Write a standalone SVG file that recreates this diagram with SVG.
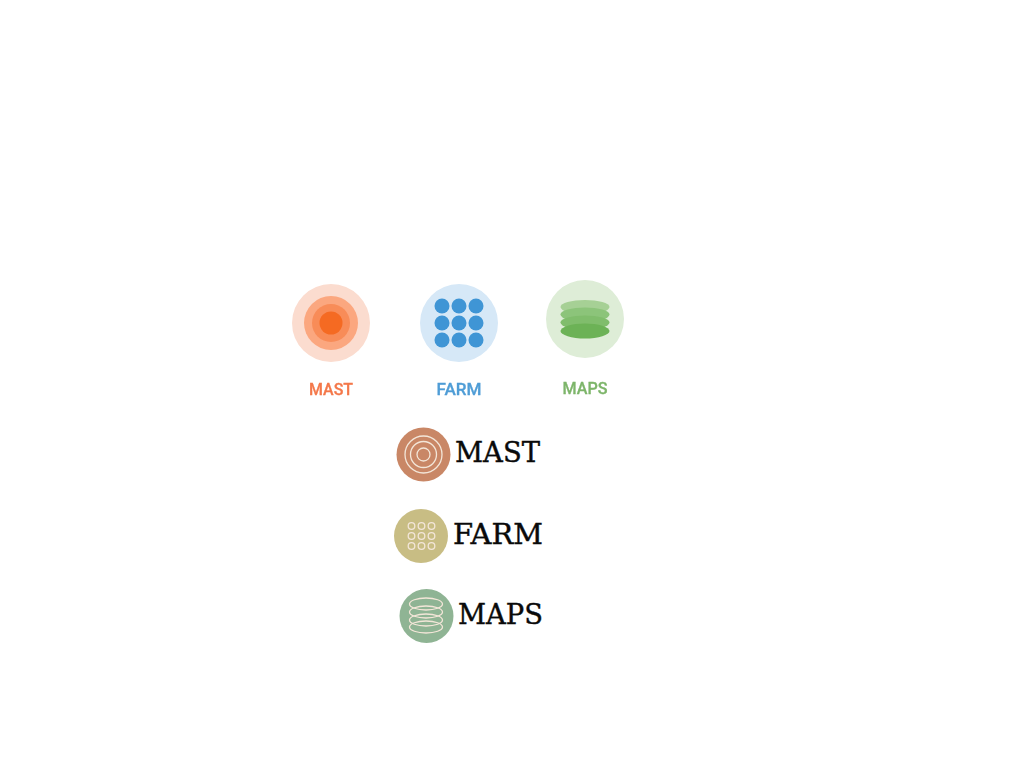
<svg xmlns="http://www.w3.org/2000/svg" width="1024" height="768" viewBox="0 0 1024 768">
<style>
.lab{font-family:"Roboto","Noto Sans",sans-serif;font-size:17px;font-weight:500;text-anchor:middle;stroke-width:0.3}
.name{font-family:"DejaVu Serif","Liberation Serif",serif;font-size:28px;fill:#0a0a0a;stroke:#0a0a0a;stroke-width:0.4;text-anchor:start}
.ln{fill:none;stroke:#f3e6d8;stroke-width:1.3}
</style>
<defs><filter id="soft" x="-5%" y="-5%" width="110%" height="110%" color-interpolation-filters="sRGB"><feGaussianBlur stdDeviation="0.6"/></filter></defs>
<rect width="1024" height="768" fill="#fff"/>
<g id="node-mast-top" filter="url(#soft)">
<circle cx="331" cy="323" r="39" fill="#fbdccf"/>
<circle cx="331" cy="323" r="27" fill="#fba77f"/>
<circle cx="331" cy="323" r="19" fill="#f88c58"/>
<circle cx="331" cy="323" r="11.500" fill="#f56a22"/>
<text class="lab" x="331" y="395" fill="#f4784a" stroke="#f4784a" textLength="44" lengthAdjust="spacingAndGlyphs">MAST</text>
</g>
<g id="node-farm-top" filter="url(#soft)" fill="#3f95d5">
<circle cx="459" cy="323" r="39" fill="#d6e8f7"/>
<circle cx="442" cy="306" r="7.500"/><circle cx="459" cy="306" r="7.500"/><circle cx="476" cy="306" r="7.500"/>
<circle cx="442" cy="323" r="7.500"/><circle cx="459" cy="323" r="7.500"/><circle cx="476" cy="323" r="7.500"/>
<circle cx="442" cy="340" r="7.500"/><circle cx="459" cy="340" r="7.500"/><circle cx="476" cy="340" r="7.500"/>
<text class="lab" x="459" y="395" fill="#4f9dd6" stroke="#4f9dd6" textLength="45" lengthAdjust="spacingAndGlyphs">FARM</text>
</g>
<g id="node-maps-top" filter="url(#soft)">
<circle cx="585" cy="319" r="39" fill="#deedd7"/>
<ellipse cx="585" cy="307" rx="24.500" ry="7" fill="#a6d095"/>
<ellipse cx="585" cy="314.500" rx="24.500" ry="7" fill="#8cc47a"/>
<ellipse cx="585" cy="322.500" rx="24.500" ry="7" fill="#80bd6c"/>
<ellipse cx="585" cy="331" rx="24.500" ry="7.500" fill="#6cb256"/>
<text class="lab" x="585" y="394" fill="#7db56a" stroke="#7db56a" textLength="45" lengthAdjust="spacingAndGlyphs">MAPS</text>
</g>
<g id="node-mast-bottom">
<circle cx="423.500" cy="454.500" r="27" fill="#c98766"/>
<circle class="ln" cx="423.500" cy="454.500" r="18.500"/>
<circle class="ln" cx="423.500" cy="454.500" r="13"/>
<circle class="ln" cx="423.500" cy="454.500" r="6.500"/>
<text class="name" x="455" y="462" textLength="85" lengthAdjust="spacingAndGlyphs">MAST</text>
</g>
<g id="node-farm-bottom">
<circle cx="421" cy="536" r="27" fill="#c8bd84"/>
<circle class="ln" cx="411.500" cy="526" r="3.300"/><circle class="ln" cx="421.500" cy="526" r="3.300"/><circle class="ln" cx="431.500" cy="526" r="3.300"/>
<circle class="ln" cx="411.500" cy="536" r="3.300"/><circle class="ln" cx="421.500" cy="536" r="3.300"/><circle class="ln" cx="431.500" cy="536" r="3.300"/>
<circle class="ln" cx="411.500" cy="546" r="3.300"/><circle class="ln" cx="421.500" cy="546" r="3.300"/><circle class="ln" cx="431.500" cy="546" r="3.300"/>
<text class="name" x="453" y="544" textLength="90" lengthAdjust="spacingAndGlyphs">FARM</text>
</g>
<g id="node-maps-bottom">
<circle cx="426.500" cy="616" r="27" fill="#8fb494"/>
<ellipse class="ln" cx="426" cy="604" rx="16.500" ry="6"/>
<ellipse class="ln" cx="426" cy="612" rx="16.500" ry="6"/>
<ellipse class="ln" cx="426" cy="620" rx="16.500" ry="6"/>
<ellipse class="ln" cx="426" cy="627" rx="16.500" ry="6"/>
<text class="name" x="458" y="624" textLength="85" lengthAdjust="spacingAndGlyphs">MAPS</text>
</g>
<g id="connectors"></g>
</svg>
